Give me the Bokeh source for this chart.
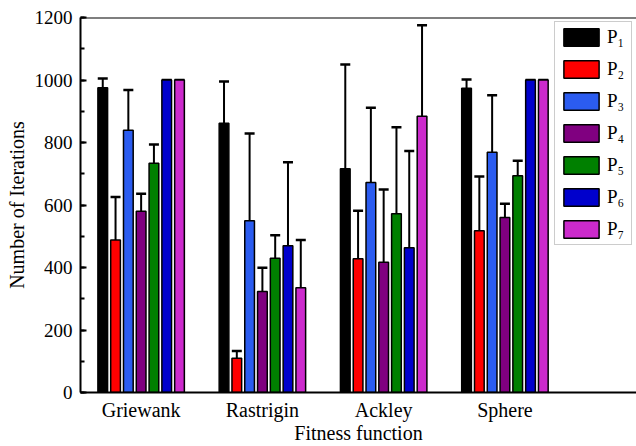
from bokeh.plotting import figure
from bokeh.models import (ColumnDataSource, FixedTicker, SingleIntervalTicker,
                          Whisker, TeeHead, Span, Range1d)
from bokeh.embed import file_html
from bokeh.resources import INLINE

functions = ["Griewank", "Rastrigin", "Ackley", "Sphere"]
series = ["P\u2081", "P\u2082", "P\u2083", "P\u2084", "P\u2085", "P\u2086", "P\u2087"]

mean_p1 = [975, 862, 716, 974]
mean_p2 = [488, 110, 428, 518]
mean_p3 = [839, 550, 672, 769]
mean_p4 = [580, 323, 417, 560]
mean_p5 = [734, 430, 572, 694]
mean_p6 = [1000, 470, 463, 1000]
mean_p7 = [1000, 335, 884, 1000]

std_p1 = [30, 133, 334, 28]
std_p2 = [138, 23, 154, 173]
std_p3 = [129, 279, 239, 182]
std_p4 = [56, 76, 233, 44]
std_p5 = [60, 73, 277, 48]
std_p6 = [0, 267, 310, 0]
std_p7 = [0, 153, 291, 0]

colors = ["#000000", "#ff0000", "#2b5cf0", "#800080", "#008000", "#0000cc", "#cc2acc"]

means = [mean_p1, mean_p2, mean_p3, mean_p4, mean_p5, mean_p6, mean_p7]
stds = [std_p1, std_p2, std_p3, std_p4, std_p5, std_p6, std_p7]

FONT = "Liberation Serif"

p = figure(width=636, height=446, output_backend="svg", toolbar_location=None,
           x_range=Range1d(0.5, 5.085), y_range=Range1d(0, 1200),
           min_border_left=80, min_border_right=0, min_border_top=17,
           min_border_bottom=54)
p.xgrid.visible = False
p.ygrid.visible = False
p.outline_line_color = None
p.background_fill_color = "white"

pitch = 0.1055
bw = 0.08
group_x = [1, 2, 3, 4]
for i, (name, m, s, c) in enumerate(zip(series, means, stds, colors)):
    xs = [g + (i - 3) * pitch for g in group_x]
    src = ColumnDataSource(dict(x=xs, top=m, upper=[a + b for a, b in zip(m, s)]))
    p.vbar(x="x", top="top", width=bw, source=src, fill_color=c,
           line_color="black", line_width=1.5, legend_label=name)
    w = Whisker(source=src, base="x", upper="upper", lower="top", dimension="height",
                line_color="black", line_width=2,
                upper_head=TeeHead(size=10, line_width=2.5, line_color="black"),
                lower_head=None)
    p.add_layout(w)

p.add_layout(Span(location=1200, dimension="width", line_color="black", line_width=2))

# axes
p.xaxis.ticker = FixedTicker(ticks=group_x)
p.xaxis.major_label_overrides = {g: f for g, f in zip(group_x, functions)}
p.xaxis.major_tick_line_color = None
p.xaxis.minor_tick_line_color = None
p.xaxis.axis_line_width = 2
p.xaxis.axis_label = "Fitness function"
p.xaxis.major_label_standoff = 0
p.xaxis.axis_label_standoff = -2

p.yaxis.ticker = SingleIntervalTicker(interval=200, num_minor_ticks=2)
p.yaxis.axis_line_width = 2
p.yaxis.major_tick_in = 6
p.yaxis.major_tick_out = 0
p.yaxis.minor_tick_in = 4
p.yaxis.minor_tick_out = 0
p.yaxis.major_tick_line_width = 2
p.yaxis.minor_tick_line_width = 2
p.yaxis.axis_label = "Number of Iterations"
p.yaxis.major_label_standoff = 8
p.yaxis.axis_label_standoff = 4

for ax in (p.xaxis, p.yaxis):
    ax.axis_line_color = "black"
    ax.major_label_text_font = FONT
    ax.major_label_text_color = "black"
    ax.axis_label_text_font = FONT
    ax.axis_label_text_font_size = "20px"
    ax.axis_label_text_font_style = "normal"
    ax.axis_label_text_color = "black"
p.xaxis.major_label_text_font_size = "20px"
p.yaxis.major_label_text_font_size = "19px"

# legend
lg = p.legend[0]
lg.location = "top_right"
lg.margin = 4
lg.padding = 4
lg.spacing = 10
lg.glyph_width = 44
lg.glyph_height = 22
lg.label_height = 22
lg.label_standoff = 4
lg.label_text_font = FONT
lg.label_text_font_size = "19px"
lg.label_text_color = "black"
lg.border_line_color = "#999999"
lg.border_line_width = 1
lg.background_fill_alpha = 1

open("out.html", "w").write(file_html(p, INLINE))
